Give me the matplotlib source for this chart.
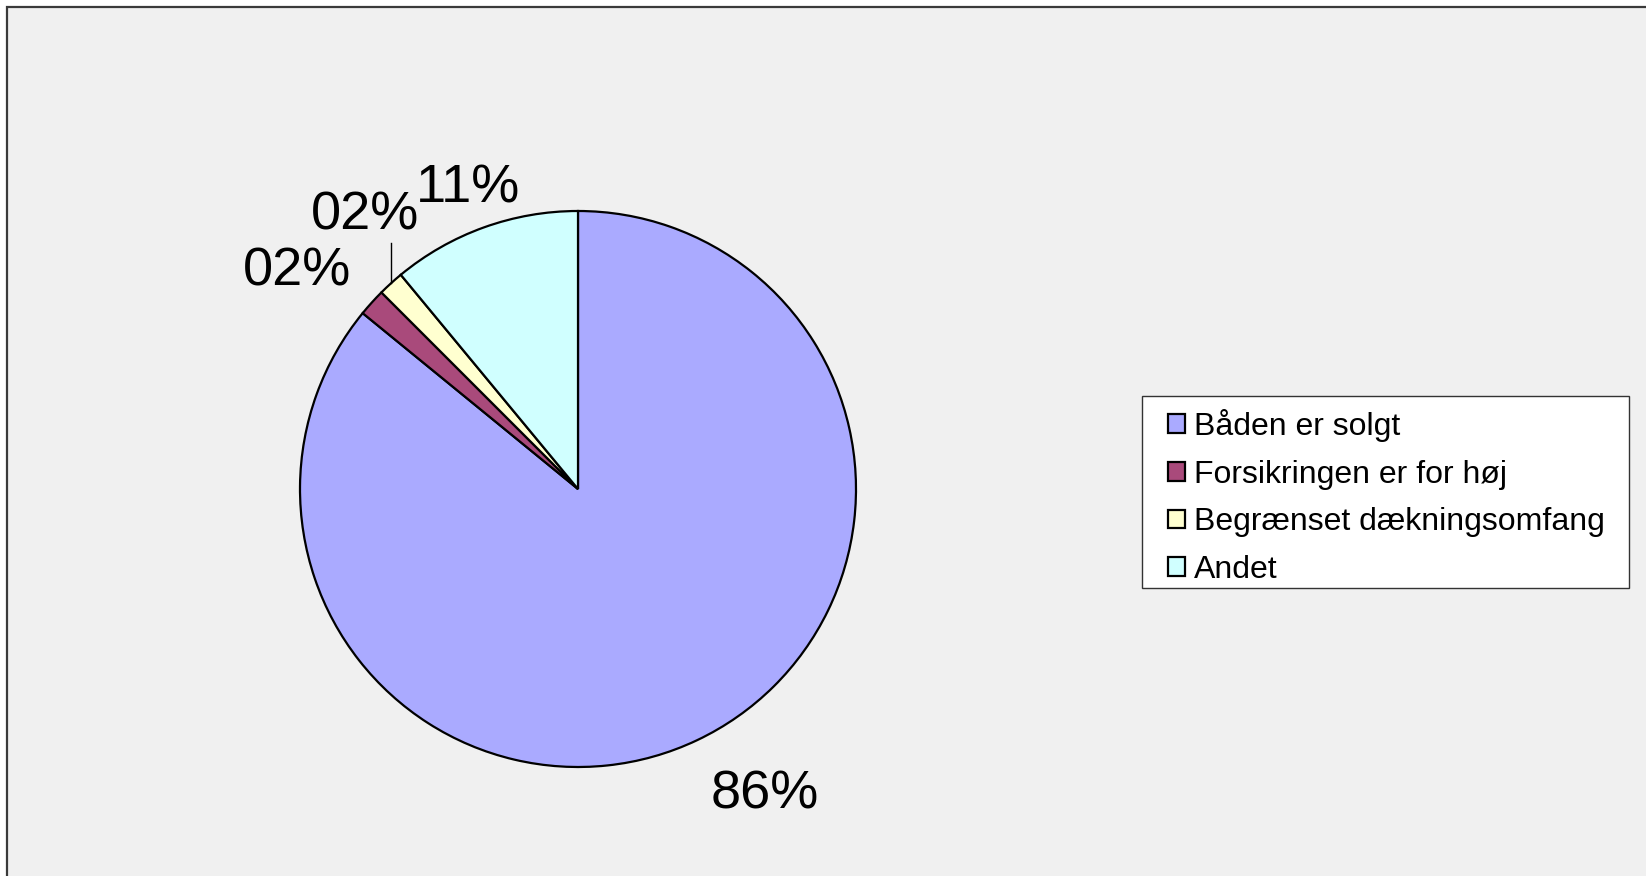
import numpy as np
import matplotlib
matplotlib.use("Agg")
import matplotlib.pyplot as plt
from matplotlib.patches import Rectangle

# ---- data ----
categories = ["Båden er solgt", "Forsikringen er for høj",
              "Begrænset dækningsomfang", "Andet"]
shares = [85.9, 1.6, 1.5, 11.0]
colors = ["#AAAAFF", "#A94A7B", "#FFFFD0", "#D0FFFF"]

plt.rcParams["font.family"] = ["Liberation Sans", "DejaVu Sans"]

W, H = 1646, 876
fig = plt.figure(figsize=(W / 100, H / 100), dpi=100)
fig.patch.set_facecolor("white")

# grey chart area with a dark frame (right/bottom edges run past the image)
fig.patches.append(Rectangle((7 / W, -0.02), 1.05, 1 - 7 / H + 0.02,
                             transform=fig.transFigure, facecolor="#F0F0F0",
                             edgecolor="#3A3A3A", lw=1.6, zorder=-5))

# pie centre (578, 489) px, radius 278 px
cx, cy, R = 578, 489, 278
lim = 1.3
side = 2 * lim * R
ax = fig.add_axes([(cx - side / 2) / W, (H - cy - side / 2) / H, side / W, side / H])
ax.patch.set_visible(False)

wedges, _ = ax.pie(shares, colors=colors, startangle=90, counterclock=False,
                   radius=1, center=(0, 0), frame=False,
                   wedgeprops=dict(edgecolor="black", linewidth=1.6))
ax.set_xlim(-lim, lim); ax.set_ylim(-lim, lim)
ax.axis("off")

# data labels, placed like the spreadsheet did
label_pos = [(0.673, -1.098), (-1.01, 0.783), (-0.765, 0.985), (-0.396, 1.08)]
for v, (x, y) in zip(shares, label_pos):
    ax.text(x, y, f"{v:02.0f}%", fontsize=39, ha="center", va="center")

# leader line for the 3rd slice
w = wedges[2]
mid = np.deg2rad((w.theta1 + w.theta2) / 2)
mx, my = np.cos(mid), np.sin(mid)
ax.plot([mx, mx], [my, 0.885], color="black", lw=1.0)

# legend box drawn by hand so the padding matches
fig.patches.append(Rectangle((1142 / W, 1 - 588 / H), (1629 - 1142) / W, 192 / H,
                             transform=fig.transFigure, facecolor="white",
                             edgecolor="#333333", lw=1.0, zorder=1))
leg = fig.legend(wedges, categories, loc="upper left",
                 bbox_to_anchor=(1168 / W, 1 - 409 / H), fontsize=23,
                 frameon=False, handlelength=0.52, handleheight=0.52,
                 handletextpad=0.3, labelspacing=0.55, borderpad=0,
                 borderaxespad=0)
leg.set_zorder(2)

fig.savefig("out.png", dpi=100)
